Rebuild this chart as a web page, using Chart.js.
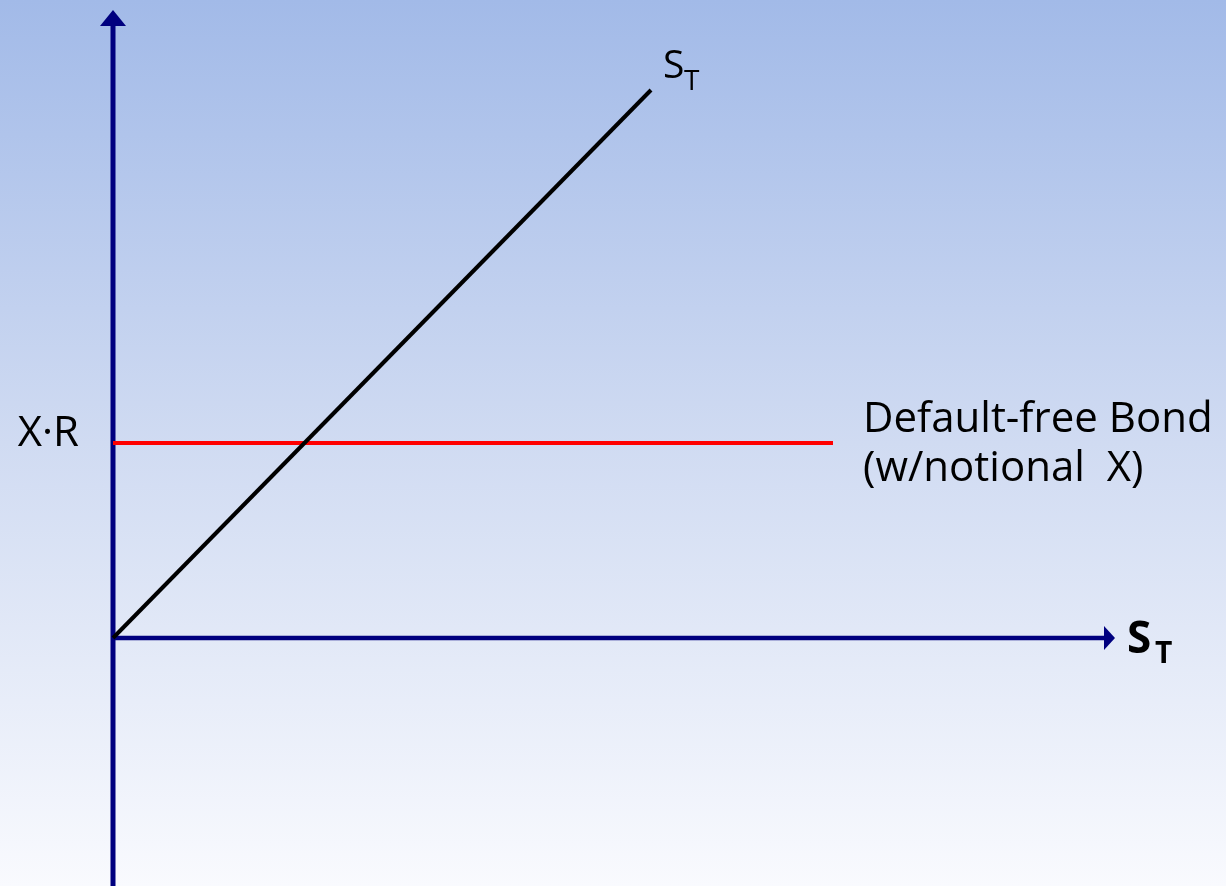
<!DOCTYPE html>
<html>
<head>
<meta charset="utf-8">
<script src="https://cdn.jsdelivr.net/npm/chart.js@4"></script>
<style>
  html, body { margin: 0; padding: 0; }
  body {
    width: 1226px; height: 886px; overflow: hidden;
    background: linear-gradient(to bottom, rgb(162,186,232) 0%, rgb(208,219,242) 50%, rgb(249,250,254) 100%);
  }
  canvas { display: block; }
</style>
</head>
<body>
<canvas id="myChart" width="1226" height="886"></canvas>
<script>
// payoff diagram values (x = S_T, y = payoff)
const stockX = [0, 5.38];
const stockY = [0, 5.48];
const bondX = [0, 7.2];
const bondLevel = 1.95;
const axisEndX = 10.02;
const axisTopY = 6.28;

const labelStock = 'S';
const labelSub = 'T';
const labelXR = 'X\u00b7R';
const labelBond = ['Default-free Bond', '(w/notional  X)'];

const navy = '#00007f';

const stockPoints = stockX.map((x, i) => ({ x: x, y: stockY[i] }));
const bondPoints = bondX.map(x => ({ x: x, y: bondLevel }));

// axes with arrow heads + text labels
const payoffDecor = {
  id: 'payoffDecor',
  beforeDatasetsDraw(chart) {
    const ctx = chart.ctx;
    const xs = chart.scales.x, ys = chart.scales.y;
    const x0 = xs.getPixelForValue(0);
    const y0 = ys.getPixelForValue(0);
    const xEnd = xs.getPixelForValue(axisEndX);
    const yTop = ys.getPixelForValue(axisTopY);
    ctx.save();
    ctx.strokeStyle = navy;
    ctx.fillStyle = navy;
    // vertical axis
    ctx.lineWidth = 5;
    ctx.beginPath();
    ctx.moveTo(x0, chart.height);
    ctx.lineTo(x0, yTop + 14);
    ctx.stroke();
    ctx.beginPath();
    ctx.moveTo(x0, yTop);
    ctx.lineTo(x0 - 13, yTop + 16);
    ctx.lineTo(x0 + 13, yTop + 16);
    ctx.closePath();
    ctx.fill();
    // horizontal axis
    ctx.lineWidth = 4.5;
    ctx.beginPath();
    ctx.moveTo(x0, y0);
    ctx.lineTo(xEnd - 9, y0);
    ctx.stroke();
    ctx.beginPath();
    ctx.moveTo(xEnd, y0);
    ctx.lineTo(xEnd - 11, y0 - 12);
    ctx.lineTo(xEnd - 11, y0 + 12);
    ctx.closePath();
    ctx.fill();
    ctx.restore();
  },
  afterDatasetsDraw(chart) {
    const ctx = chart.ctx;
    const xs = chart.scales.x, ys = chart.scales.y;
    ctx.save();
    ctx.fillStyle = '#000';
    ctx.textBaseline = 'alphabetic';
    ctx.textAlign = 'left';

    // S_T at end of stock line
    const sx = xs.getPixelForValue(stockX[1]);
    const sy = ys.getPixelForValue(stockY[1]);
    ctx.font = '39px "Open Sans"';
    ctx.fillText(labelStock, sx + 12, sy - 12);
    ctx.font = '28px "Open Sans"';
    ctx.fillText(labelSub, sx + 33, sy);

    // X·R on the left
    const by = ys.getPixelForValue(bondLevel);
    ctx.font = '42px "Open Sans"';
    ctx.textAlign = 'right';
    ctx.fillText(labelXR, xs.getPixelForValue(0) - 34, by + 3);

    // bond label
    ctx.textAlign = 'left';
    const bx = xs.getPixelForValue(bondX[1]);
    ctx.font = '42px "Open Sans"';
    ctx.fillText(labelBond[0], bx + 30, by - 11);
    ctx.fillText(labelBond[1], bx + 30, by + 38);

    // bold S_T at axis end
    const ax = xs.getPixelForValue(axisEndX);
    const ay = ys.getPixelForValue(0);
    ctx.font = 'bold 44px "Open Sans"';
    ctx.fillText(labelStock, ax + 12, ay + 15);
    ctx.font = 'bold 30px "Open Sans"';
    ctx.fillText(labelSub, ax + 40, ay + 25);
    ctx.restore();
  }
};

const myChart = new Chart(document.getElementById('myChart'), {
  type: 'scatter',
  data: {
    datasets: [
      {
        label: 'Stock',
        data: stockPoints,
        showLine: true,
        borderColor: '#000000',
        borderWidth: 4,
        pointRadius: 0,
        borderCapStyle: 'butt'
      },
      {
        label: 'Bond',
        data: bondPoints,
        showLine: true,
        borderColor: '#ff0000',
        borderWidth: 4,
        pointRadius: 0
      }
    ]
  },
  options: {
    responsive: false,
    animation: false,
    layout: { padding: 0 },
    plugins: { legend: { display: false }, tooltip: { enabled: false } },
    scales: {
      x: { type: 'linear', display: false, min: -1.13, max: 11.13 },
      y: { type: 'linear', display: false, min: -2.48, max: 6.38 }
    }
  },
  plugins: [payoffDecor]
});
</script>
</body>
</html>
